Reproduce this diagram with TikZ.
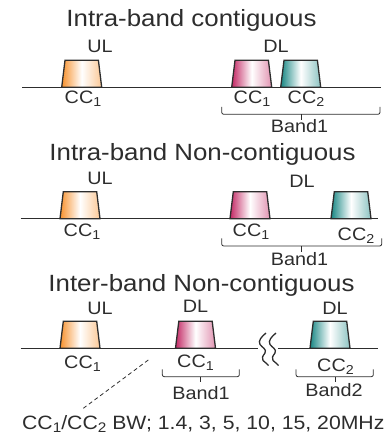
\documentclass[tikz,border=0pt]{standalone}
\usepackage{fontspec}
\usepackage{graphicx}
\setmainfont[FakeStretch=1.1]{Liberation Sans}
\definecolor{txtgray}{RGB}{45,45,45}
\definecolor{linegray}{RGB}{45,45,45}
\definecolor{ulorange}{RGB}{247,145,45}
\definecolor{dlpink}{RGB}{195,40,100}
\definecolor{dlteal}{RGB}{25,135,132}
\newcommand{\sbs}[1]{\raisebox{-0.3ex}{\scalebox{0.72}{#1}}}
\newcommand{\carrier}[3]{%
  \draw[carrierline, left color=#3, right color=#3!50, middle color=white]
    (#1,#2) -- (#1+3.3,#2-27) -- (#1+36.7,#2-27) -- (#1+40,#2) -- cycle;}
\newcommand{\bracket}[5]{% x1, x2, xm, ytip, yline
  \draw[bracestyle, rounded corners=2pt] (#1,#4) -- (#1,#5) -- (#2,#5) -- (#2,#4);
  \draw[bracestyle] (#3,#5) -- (#3,#5+5.5);}
\begin{document}
\begin{tikzpicture}[x=1pt,y=-1pt,
  title/.style={anchor=base, inner sep=0pt, text=txtgray, font=\fontsize{23.5}{26}\selectfont},
  lab/.style={anchor=base, inner sep=0pt, text=txtgray, font=\fontsize{18}{20}\selectfont},
  note/.style={anchor=base, inner sep=0pt, text=txtgray, font=\fontsize{19.3}{22}\selectfont},
  axisline/.style={draw=linegray, line width=1.1pt},
  carrierline/.style={draw=linegray, line width=1.3pt, line join=miter},
  bracestyle/.style={draw=linegray, line width=0.8pt},
  squig/.style={draw=linegray, line width=1.3pt}]
\useasboundingbox (0,0) rectangle (385,435);

% ---------- Section 1 ----------
\node[title] (t1) at (191.5,27) {Intra-band contiguous};
\node[lab] (ul1) at (100,53) {UL};
\node[lab] (dl1) at (276,53) {DL};
\coordinate (a1l) at (22,87.5);
\coordinate (a1r) at (380.7,87.5);
\draw[axisline] (a1l) -- (a1r);
\carrier{61.7}{87.3}{ulorange}
\carrier{231.7}{87.3}{dlpink}
\carrier{280.7}{87.3}{dlteal}
\node[lab] (c11) at (83,104) {CC\sbs{1}};
\node[lab] (c12) at (252,104) {CC\sbs{1}};
\node[lab] (c13) at (306,104) {CC\sbs{2}};
\bracket{221.7}{380}{301}{107}{114.3}
\node[lab] (b1) at (299.5,132.7) {Band1};

% ---------- Section 2 ----------
\node[title] (t2) at (202.5,160.7) {Intra-band Non-contiguous};
\node[lab] (ul2) at (100,185) {UL};
\node[lab] (dl2) at (302,187.3) {DL};
\coordinate (a2l) at (20.7,218.7);
\coordinate (a2r) at (378.3,218.7);
\draw[axisline] (a2l) -- (a2r);
\carrier{60}{218.7}{ulorange}
\carrier{230}{218.7}{dlpink}
\carrier{331}{218.7}{dlteal}
\node[lab] (c21) at (82,236.7) {CC\sbs{1}};
\node[lab] (c22) at (251,236.7) {CC\sbs{1}};
\node[lab] (c23) at (356,240.7) {CC\sbs{2}};
\bracket{221.7}{381.7}{301.7}{238.3}{246}
\node[lab] (b2) at (299.5,265) {Band1};

% ---------- Section 3 ----------
\node[title] (t3) at (201.5,291.7) {Inter-band Non-contiguous};
\node[lab] (ul3) at (100,314.3) {UL};
\node[lab] (dl3a) at (195.5,312.7) {DL};
\node[lab] (dl3b) at (335,314.3) {DL};
\coordinate (a3l) at (20.7,348.3);
\coordinate (a3m) at (258.3,348.3);
\coordinate (a3n) at (278.3,348.3);
\coordinate (a3r) at (377.7,348.3);
\draw[axisline] (a3l) -- (a3m);
\draw[axisline] (a3n) -- (a3r);
\foreach \sx in {260,270}{
  \draw[squig] (\sx+6,333) .. controls (\sx+1,337) and (\sx-2,341) .. (\sx,344.5)
    .. controls (\sx+2,347.5) and (\sx+7,349) .. (\sx+5,353)
    .. controls (\sx+3,356) and (\sx+1,358) .. (\sx+3,360.5)
    .. controls (\sx+5,362.5) and (\sx+7,363.5) .. (\sx+8.5,365.5);
}
\carrier{60}{348.3}{ulorange}
\carrier{175.5}{348.3}{dlpink}
\carrier{310}{348.3}{dlteal}
\node[lab] (c31) at (82.5,368.3) {CC\sbs{1}};
\node[lab] (c32) at (195.5,367.3) {CC\sbs{1}};
\node[lab] (c33) at (335.5,371.7) {CC\sbs{2}};
\bracket{162.3}{239.3}{200}{369.3}{376.7}
\bracket{296}{373.3}{335}{369.3}{376.7}
\node[lab] (b31) at (201,399) {Band1};
\node[lab] (b32) at (334,396.7) {Band2};

% ---------- bottom note ----------
\node[note] (bw) at (203.3,429.3) {CC\sbs{1}/CC\sbs{2} BW; 1.4, 3, 5, 10, 15, 20MHz};
\coordinate (dstart) at (148.3,360);
\coordinate (dend) at (83.3,408.3);
\draw[draw=linegray, line width=0.8pt, dash pattern=on 4pt off 3pt] (dstart) -- (dend);
\end{tikzpicture}
\end{document}
